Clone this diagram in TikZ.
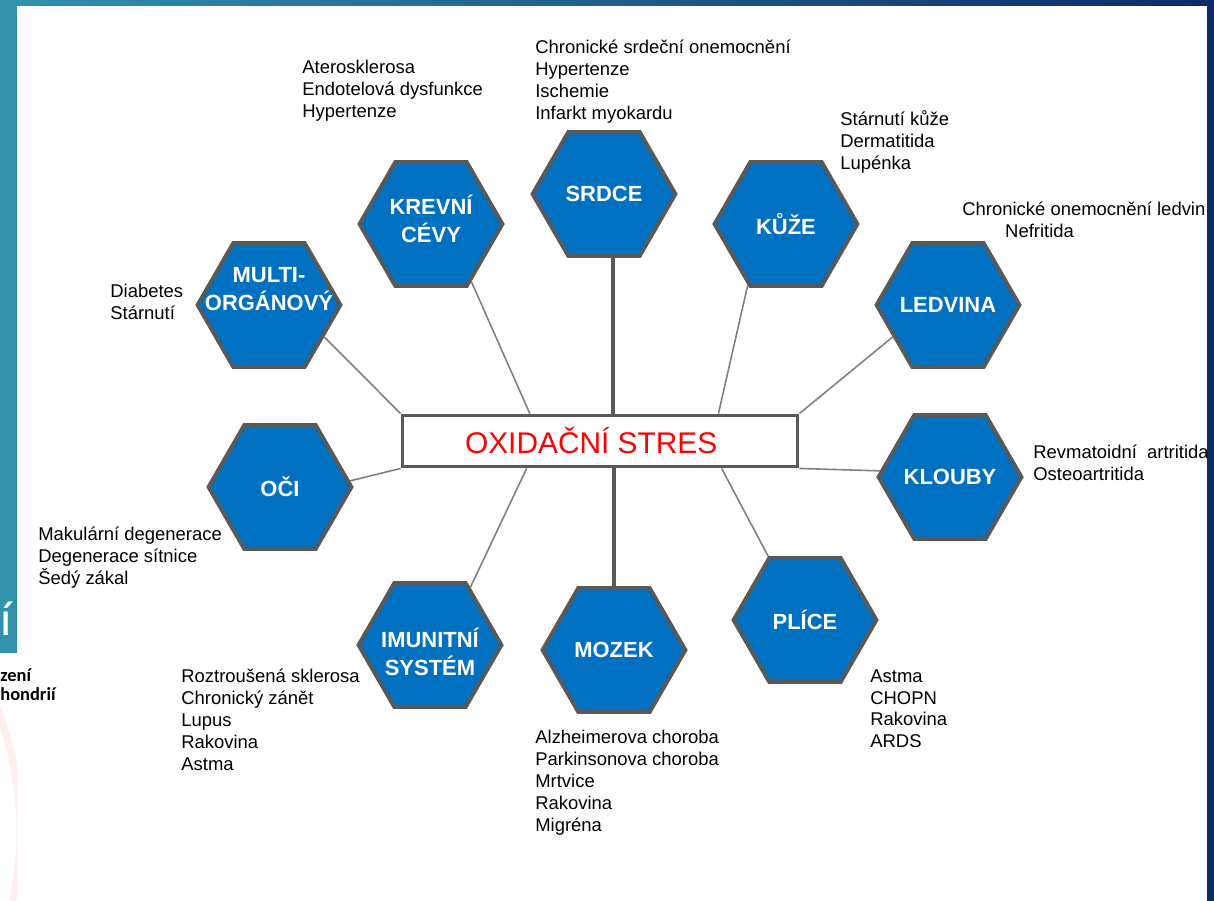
\documentclass[tikz,border=0pt]{standalone}
\usepackage{fontspec}
\setmainfont{Liberation Sans}
\newfontfamily\slidefont{Carlito}
\usetikzlibrary{shapes.geometric,calc}
\definecolor{hexblue}{RGB}{0,112,192}
\definecolor{hexrim}{RGB}{89,89,89}
\definecolor{wire}{RGB}{128,128,128}
\definecolor{slideteal}{RGB}{50,146,172}
\definecolor{slidenavy}{RGB}{14,42,100}

\begin{document}
\begin{tikzpicture}[x=0.02cm, y=-0.02cm,
    hex/.style={regular polygon, regular polygon sides=6, minimum size=2.86cm, inner sep=0pt, fill=hexblue, draw=hexrim, line width=2.2pt},
    hexname/.style={text=white, font=\bfseries\fontsize{12.5pt}{15.8pt}\selectfont, align=center, inner sep=0pt},
    sickness/.style={anchor=north west, inner sep=0pt, align=left, font=\fontsize{10.5pt}{12.5pt}\selectfont},
    thinwire/.style={draw=wire, line width=0.9pt},
    thickwire/.style={draw=hexrim, line width=2pt}]
        \useasboundingbox (0,0) rectangle (1214,900);
        % slide behind the picture
        \shade[left color=slideteal, right color=slidenavy] (0,0) rectangle (1214,900);
        \fill[white] (0,653) rectangle (17,910);
        \draw[pink!25, line width=4pt] (-310,830) circle[radius=330];
        \fill[white] (17,6) rectangle (1207,910);
        \node[text=white, inner sep=0pt, anchor=base, font=\slidefont\fontsize{28pt}{30pt}\selectfont] (slidei) at (6,635) {í};
        \node[inner sep=0pt, anchor=base west, font=\slidefont\bfseries\fontsize{10.5pt}{12pt}\selectfont] (slidez) at (0,681) {zení};
        \node[inner sep=0pt, anchor=base west, font=\slidefont\bfseries\fontsize{10.5pt}{12pt}\selectfont] (slideh) at (0,700) {hondrií};

        % centre
        \node[draw=hexrim, line width=2.2pt, fill=white, minimum width=7.9cm, minimum height=1.02cm, text=red, font=\fontsize{17pt}{20pt}\selectfont] (ox) at (600,441) {OXIDAČNÍ STRES\kern10pt};

        % organs
        \node[hex, label={[hexname, yshift=9pt]center:{MULTI-\\ORGÁNOVÝ}}] (multi) at (269,305) {};
        \node[hex, label={[hexname, yshift=3pt]center:{KREVNÍ\\CÉVY}}] (krevni) at (431,224) {};
        \node[hex, label={[hexname]center:SRDCE}] (srdce) at (604,194) {};
        \node[hex, label={[hexname]center:KŮŽE}] (kuze) at (786,224) {};
        \node[hex, label={[hexname]center:LEDVINA}] (ledvina) at (948,305) {};
        \node[hex, label={[hexname]center:KLOUBY}] (klouby) at (950,477) {};
        \node[hex, label={[hexname]center:PLÍCE}] (plice) at (805,620) {};
        \node[hex, label={[hexname]center:MOZEK}] (mozek) at (614,650) {};
        \node[hex, label={[hexname, yshift=-4pt]center:{IMUNITNÍ\\SYSTÉM}}] (imunit) at (430,645) {};
        \node[hex, label={[hexname]center:OČI}] (oci) at (280,487) {};

        % connectors
        \draw[thinwire] (multi.-30) -- (ox.north west);
        \draw[thinwire] (krevni.-55) -- ($(ox.north west)!0.324!(ox.north east)$);
        \draw[thickwire] (srdce.-82) -- (srdce.-82 |- ox.north);
        \draw[thinwire] (kuze.-122) -- ($(ox.north west)!0.797!(ox.north east)$);
        \draw[thinwire] (ledvina.-150) -- (ox.north east);
        \draw[thinwire] (oci.5) -- (ox.south west);
        \draw[thinwire] (imunit.55) -- ($(ox.south west)!0.316!(ox.south east)$);
        \draw[thickwire] (mozek.north) -- (mozek.north |- ox.south);
        \draw[thinwire] (plice.120) -- ($(ox.south west)!0.805!(ox.south east)$);
        \draw[thinwire] (klouby.175) -- (ox.south east);

        % diseases
        \node[sickness] (multiT) at (110,284) {Diabetes\\Stárnutí};
        \node[sickness] (krevniT) at (302,60) {Aterosklerosa\\Endotelová dysfunkce\\Hypertenze};
        \node[sickness] (srdceT) at (535,40) {Chronické srdeční onemocnění\\Hypertenze\\Ischemie\\Infarkt myokardu};
        \node[sickness] (kuzeT) at (840,110) {Stárnutí kůže\\Dermatitida\\Lupénka};
        \node[sickness] (ledvinaT) at (962,202) {Chronické onemocnění ledvin\\\hspace*{24.4pt}Nefritida};
        \node[sickness] (kloubyT) at (1033,445) {Revmatoidní\ \ artritida\\Osteoartritida};
        \node[sickness] (pliceT) at (870,669) {Astma\\CHOPN\\Rakovina\\ARDS};
        \node[sickness] (mozekT) at (535,730) {Alzheimerova choroba\\Parkinsonova choroba\\Mrtvice\\Rakovina\\Migréna};
        \node[sickness] (imunitT) at (181,669) {Roztroušená sklerosa\\Chronický zánět\\Lupus\\Rakovina\\Astma};
        \node[sickness] (ociT) at (38,527) {Makulární degenerace\\Degenerace sítnice\\Šedý zákal};
      \end{tikzpicture}
\end{document}
